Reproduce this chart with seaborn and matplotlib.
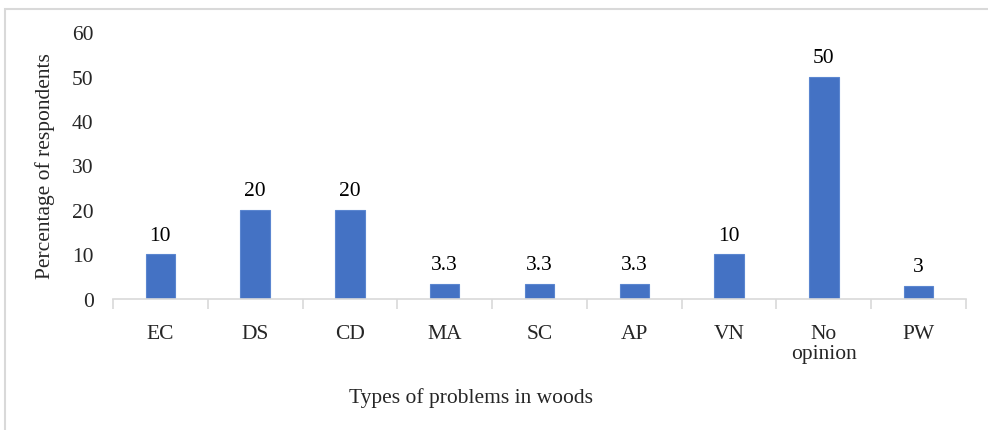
import matplotlib
matplotlib.use("Agg")
import matplotlib.pyplot as plt
import seaborn as sns
import pandas as pd
from matplotlib.patches import Rectangle

categories = ["EC", "DS", "CD", "MA", "SC", "AP", "VN", "No\nopinion", "PW"]
values = [10, 20, 20, 3.3, 3.3, 3.3, 10, 50, 3]
value_labels = ["10", "20", "20", "3.3", "3.3", "3.3", "10", "50", "3"]
y_ticks = [0, 10, 20, 30, 40, 50, 60]

sns.set_theme(style="white")
plt.rcParams["font.family"] = ["Liberation Serif", "DejaVu Serif"]

FS = 15.5
df = pd.DataFrame({"category": categories, "value": values})

fig = plt.figure(figsize=(9.88, 4.31), dpi=100)
ax = fig.add_axes([0.1144, 0.304, 0.8633, 0.6194])

sns.barplot(data=df, x="category", y="value", color="#4472C4",
            width=0.31, saturation=1, ax=ax, edgecolor="#5B86D0", linewidth=0.8)

ax.set_ylim(0, 60)
ax.set_xlim(-0.5, len(categories) - 0.5)
ax.set_yticks(y_ticks)
ax.set_yticklabels([str(t) for t in y_ticks], fontsize=FS)
ax.tick_params(axis="y", length=0, pad=14)

# category separators on the baseline
ax.set_xticks([i + 0.5 for i in range(-1, len(categories))], minor=True)
ax.tick_params(axis="x", which="minor", bottom=True, length=7, width=1.2,
               color="#D9D9D9", direction="out")
ax.tick_params(axis="x", which="major", length=0, pad=18, labelsize=FS)
ax.set_xticklabels(categories, fontsize=FS, linespacing=1.05)

for s in ["top", "right", "left"]:
    ax.spines[s].set_visible(False)
ax.spines["bottom"].set_color("#D9D9D9")
ax.spines["bottom"].set_linewidth(1.2)

for i, (v, lab) in enumerate(zip(values, value_labels)):
    ax.annotate(lab, (i, v), xytext=(0, 14), textcoords="offset points",
                ha="center", va="center", fontsize=FS, color="#000000")

ax.set_xlabel("Types of problems in woods", fontsize=FS)
ax.xaxis.set_label_coords(0.42, -0.367)
ax.xaxis.label.set_va("center")
ax.set_ylabel("Percentage of respondents", fontsize=FS)
ax.yaxis.set_label_coords(-0.08, 0.5)
ax.yaxis.label.set_va("center")

# chart frame
fig.patches.append(Rectangle((5 / 988, -0.1), 1.1, 1 - 10 / 431 + 0.1,
                             transform=fig.transFigure, fill=False,
                             edgecolor="#D9D9D9", linewidth=1.5, zorder=0))

fig.savefig("out.png", dpi=100)
